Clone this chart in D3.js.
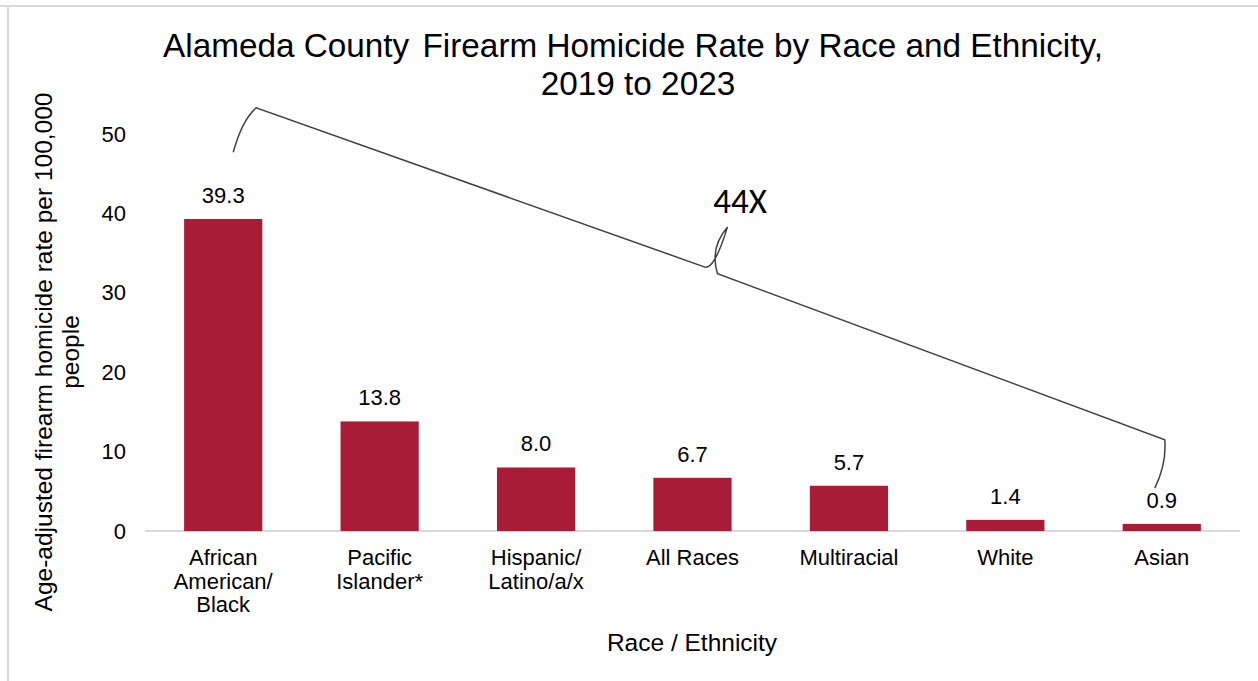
<!DOCTYPE html>
<html>
<head>
<meta charset="utf-8">
<script src="https://cdn.jsdelivr.net/npm/d3@7"></script>
<style>
  html, body { margin: 0; padding: 0; background: #fff; }
  svg { display: block; }
  text { font-family: "Liberation Sans", Arial, sans-serif; fill: #000; }
</style>
</head>
<body>
<svg id="chart" width="1258" height="681"></svg>
<script>
// Age-adjusted firearm homicide rate per 100,000, Alameda County 2019-2023
const categories = [
  ["African", "American/", "Black"],
  ["Pacific", "Islander*"],
  ["Hispanic/", "Latino/a/x"],
  ["All Races"],
  ["Multiracial"],
  ["White"],
  ["Asian"]
];
const rates = [39.3, 13.8, 8.0, 6.7, 5.7, 1.4, 0.9];
const yTicks = [0, 10, 20, 30, 40, 50];
const ratioLabel = "44X";

const svg = d3.select("#chart");
const W = 1258, H = 681;
const margin = { left: 145, right: 18, top: 134, bottom: 150 };

// frame lines along the top and left edge
svg.append("line").attr("x1", 0).attr("x2", W).attr("y1", 6).attr("y2", 6)
  .attr("stroke", "#d9d9d9").attr("stroke-width", 2);
svg.append("line").attr("x1", 8).attr("x2", 8).attr("y1", 6).attr("y2", H)
  .attr("stroke", "#d9d9d9").attr("stroke-width", 2);

const keys = categories.map((c, i) => i);
const x = d3.scaleBand().domain(keys)
  .range([margin.left, W - margin.right]).padding(0.5).paddingOuter(0.25);
const y = d3.scaleLinear().domain([0, 50]).range([531, 134]);

// title
const title = svg.append("text").attr("text-anchor", "middle")
  .attr("font-size", 33.3);
title.append("tspan").attr("x", 633).attr("y", 57).text("Alameda County ");
title.append("tspan").attr("dx", 4)
  .text("Firearm Homicide Rate by Race and Ethnicity,");
title.append("tspan").attr("x", 638).attr("y", 95).text("2019 to 2023");

// y axis (labels only)
const yAxis = d3.axisLeft(y).tickValues(yTicks).tickSize(0).tickPadding(19);
const gy = svg.append("g").attr("transform", `translate(${margin.left},0)`).call(yAxis);
gy.select(".domain").remove();
gy.selectAll("text").attr("font-size", 22).attr("fill", "#000")
  .attr("font-family", "Liberation Sans, Arial, sans-serif");

// baseline
svg.append("line")
  .attr("x1", x.range()[0]).attr("x2", x.range()[1])
  .attr("y1", y(0)).attr("y2", y(0))
  .attr("stroke", "#d9d9d9").attr("stroke-width", 2);

// bars
svg.append("g").selectAll("rect").data(rates).join("rect")
  .attr("x", (d, i) => x(i))
  .attr("width", x.bandwidth())
  .attr("y", d => y(d))
  .attr("height", d => y(0) - y(d))
  .attr("fill", "#A91C37");

// value labels
svg.append("g").selectAll("text").data(rates).join("text")
  .attr("x", (d, i) => x(i) + x.bandwidth() / 2)
  .attr("y", d => y(d) - 16)
  .attr("text-anchor", "middle").attr("font-size", 22)
  .text(d => d.toFixed(1));

// category labels
const cat = svg.append("g").selectAll("text").data(categories).join("text")
  .attr("text-anchor", "middle").attr("font-size", 22);
cat.each(function (lines, i) {
  const t = d3.select(this);
  lines.forEach((ln, k) => {
    t.append("tspan").attr("x", x(i) + x.bandwidth() / 2)
      .attr("y", 565 + k * 23.5).text(ln);
  });
});

// axis titles
svg.append("text").attr("text-anchor", "middle").attr("font-size", 24.5)
  .attr("x", 692).attr("y", 651).text("Race / Ethnicity");

const yt = svg.append("text").attr("text-anchor", "middle").attr("font-size", 24.5)
  .attr("transform", "translate(52,352) rotate(-90)");
yt.append("tspan").attr("x", 0).attr("y", 0)
  .text("Age-adjusted firearm homicide rate per 100,000");
yt.append("tspan").attr("x", 0).attr("y", 27).text("people");

// curly brace spanning from the highest to the lowest group
const cx = i => x(i) + x.bandwidth() / 2;
const first = 0, last = rates.length - 1;
const px = (i, dx) => cx(i) + dx;
const leftFoot = [px(first, 10), y(47.7)];
const leftCorner = [px(first, 33), y(53.3)];
const rightCorner = [px(last, 3), y(11.5)];
const rightFoot = [px(last, -7), y(5.4)];
const tip = [(leftCorner[0] + rightCorner[0]) / 2 + 17, y(38.3)];
const midL = [tip[0] - 24, y(33.3)];
const midR = [tip[0] - 10, y(32.4)];

const brace = d3.path();
brace.moveTo(...leftFoot);
brace.quadraticCurveTo(leftCorner[0] - 14, leftCorner[1] + 12, leftCorner[0], leftCorner[1]);
brace.lineTo(midL[0], midL[1]);
brace.quadraticCurveTo(midL[0] + 10, midL[1] + 6, tip[0], tip[1]);
brace.moveTo(tip[0], tip[1]);
brace.quadraticCurveTo(midR[0] - 8, midR[1] - 26, midR[0], midR[1]);
brace.lineTo(rightCorner[0], rightCorner[1]);
brace.quadraticCurveTo(rightCorner[0] + 2, rightCorner[1] + 24, rightFoot[0], rightFoot[1]);
svg.append("path").attr("d", brace.toString())
  .attr("fill", "none").attr("stroke", "#404040").attr("stroke-width", 1.5);

svg.append("text").attr("x", 740).attr("y", 213)
  .attr("text-anchor", "middle").attr("font-size", 35)
  .style("font-family", "Carlito, 'Open Sans', 'Noto Sans', sans-serif")
  .text(ratioLabel);
</script>
</body>
</html>
